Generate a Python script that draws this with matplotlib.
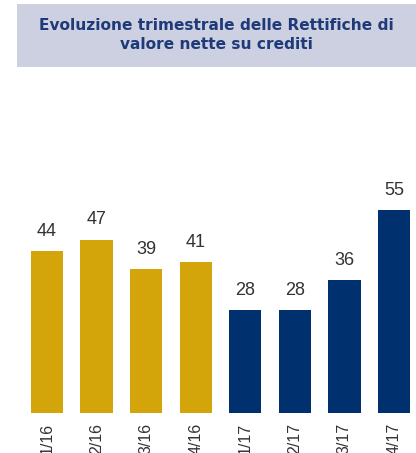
import matplotlib
matplotlib.use("Agg")
import matplotlib.pyplot as plt
from matplotlib.patches import Rectangle

categories = ["1/16", "2/16", "3/16", "4/16", "1/17", "2/17", "3/17", "4/17"]
values = [44, 47, 39, 41, 28, 28, 36, 55]
colors = ["#D4A50A"] * 4 + ["#00306E"] * 4
title = "Evoluzione trimestrale delle Rettifiche di\nvalore nette su crediti"

plt.rcParams['font.family'] = ['Liberation Sans', 'DejaVu Sans']

W, H = 416, 453
fig = plt.figure(figsize=(W / 100, H / 100), dpi=100)

# title box
fig.patches.append(Rectangle((17 / W, 1 - 67 / H), (416 - 17) / W, 63 / H,
                             transform=fig.transFigure, facecolor="#CDD0E1",
                             edgecolor="none", zorder=0))
fig.text(0.5 + 8 / W, 1 - 35 / H, title, ha="center", va="center",
         fontsize=11.1, fontweight="bold", color="#1F3A78", linespacing=1.35,
         family=["DejaVu Sans"])

ax = fig.add_axes([0, 40 / H, 1, (413 - 80) / H])
x = list(range(len(categories)))
bars = ax.bar(x, values, width=0.65, color=colors)
for xi, v in zip(x, values):
    ax.annotate(str(v), (xi, v), xytext=(0, 8), textcoords="offset points",
                ha="center", va="bottom", fontsize=13, color="#333333",
                family=["Liberation Sans"])

pxu = 49.57
ax.set_xlim(-47 / pxu, (416 - 47) / pxu)
ax.set_ylim(0, 333 / 3.69)
ax.set_xticks(x)
ax.set_xticklabels(categories, rotation=90, fontsize=11.5, color="#333333",
                   family=["Liberation Sans"])
ax.tick_params(axis="x", length=0, pad=7)
ax.set_yticks([])
for s in ax.spines.values():
    s.set_visible(False)
ax.patch.set_alpha(0)

fig.savefig("out.png", dpi=100)
